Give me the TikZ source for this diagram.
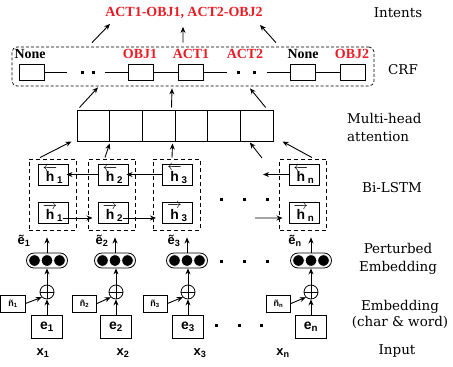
\documentclass[tikz,border=0pt]{standalone}
\usepackage{amsmath}
\usepackage{fontspec}
\setmainfont{DejaVu Serif}
\newfontfamily\tagfont{Liberation Serif}
\newfontfamily\symfont{Liberation Sans}
\usetikzlibrary{arrows.meta}
\definecolor{tagred}{RGB}{235,28,36}
\tikzset{
  arr/.style     = {-{Stealth[length=6bp,width=5bp]},line width=0.9bp},
  link/.style    = {line width=1bp},
  frame/.style   = {draw,dash pattern=on 3bp off 2bp,rounded corners=5bp,line width=0.7bp,minimum width=362bp,minimum height=39bp,inner sep=0pt},
  crfbox/.style  = {draw,line width=1bp,minimum width=25bp,minimum height=16bp,inner sep=0pt},
  tag/.style     = {font=\tagfont\bfseries\fontsize{14}{16}\selectfont,inner sep=0pt},
  cell/.style    = {draw,line width=1bp,minimum width=32.67bp,minimum height=31bp,inner sep=0pt},
  lstmbox/.style = {draw,dash pattern=on 4bp off 3bp,line width=0.9bp,minimum width=47bp,minimum height=71bp,inner sep=0pt},
  hbox/.style    = {draw,line width=1bp,minimum width=30bp,minimum height=21bp,inner sep=0pt,font=\symfont\bfseries\fontsize{14}{16}\selectfont},
  bead/.style    = {draw,line width=0.8bp,rounded corners=7.5bp,minimum width=41bp,minimum height=15bp,inner sep=0pt},
  sum/.style     = {draw,circle,line width=0.8bp,minimum size=14bp,inner sep=0pt},
  nbox/.style    = {draw,line width=1bp,minimum width=24bp,minimum height=17bp,inner sep=0pt,font=\symfont\bfseries\fontsize{9}{10}\selectfont},
  ebox/.style    = {draw,line width=1bp,minimum width=31bp,minimum height=23bp,inner sep=0pt,font=\symfont\bfseries\fontsize{14}{16}\selectfont},
  sym/.style     = {inner sep=0pt,font=\symfont\bfseries\fontsize{13}{15}\selectfont},
  side/.style    = {inner sep=0pt,align=center,font=\fontsize{13.5}{18}\selectfont}
}
\newcommand{\hbk}[1]{$\overleftarrow{\text{h}}_{\text{#1}}$}
\newcommand{\hfw}[1]{$\overrightarrow{\text{h}}_{\text{#1}}$}
\newcommand{\blob}[2]{\fill (#1-1.5,#2-1.5) rectangle ++(3,3);}
\newcommand{\beads}[1]{%
  \foreach \k in {-1,0,1}
    \filldraw[fill=black,draw=white,line width=0.8bp] ([xshift=\k*12.5bp]#1.center) circle (5.8bp);
}

\begin{document}
\begin{tikzpicture}[x=1bp,y=-1bp]
  \useasboundingbox (0,0) rectangle (453,366);

  % intents
  \node[tag,tagred] (intent) at (184,13) {ACT1-OBJ1, ACT2-OBJ2};

  % crf layer
  \node[frame] (crf) at (193,66.5) {};
  \node[crfbox] (c1) at (31.5,72) {};
  \node[crfbox] (c2) at (141,72) {};
  \node[crfbox] (c3) at (191,72) {};
  \node[crfbox] (c4) at (302.5,72) {};
  \node[crfbox] (c5) at (353,72) {};
  \node[tag]        (t1) at (30,54)  {None};
  \node[tag,tagred] (t2) at (140,54) {OBJ1};
  \node[tag,tagred] (t3) at (191,54) {ACT1};
  \node[tag,tagred] (t4) at (245,54) {ACT2};
  \node[tag]        (t5) at (303,54) {None};
  \node[tag,tagred] (t6) at (352,54) {OBJ2};
  \coordinate (g1) at (67,72);
  \coordinate (g2) at (105,72);
  \coordinate (g3) at (227,72);
  \coordinate (g4) at (267,72);
  \draw[link] (c1) -- (g1);
  \draw[link] (g2) -- (c2);
  \draw[link] (c2) -- (c3);
  \draw[link] (c3) -- (g3);
  \draw[link] (g4) -- (c4);
  \draw[link] (c4) -- (c5);
  \blob{82}{72} \blob{93}{72}
  \blob{238}{72} \blob{254}{72}
  \draw[arr] ([xshift=-101bp,yshift=4bp]crf.north) -- ([xshift=-74bp,yshift=-5bp]intent.south);
  \draw[arr] ([xshift=-10bp,yshift=4bp]crf.north)  -- ([xshift=-1bp,yshift=-8bp]intent.south);
  \draw[arr] ([xshift=83bp,yshift=4bp]crf.north)   -- ([xshift=76bp,yshift=-6bp]intent.south);

  % multi-head attention
  \foreach \i in {1,...,6}
    \node[cell] (att\i) at ({77+32.67*(\i-0.5)},125.5) {};
  \draw[arr] ([xshift=3bp,yshift=2bp]att1.north west) -- ([xshift=-95bp,yshift=-1bp]crf.south);
  \draw[arr] ([xshift=-3bp,yshift=2bp]att4.north west) -- ([xshift=-21bp,yshift=-2bp]crf.south);
  \draw[arr] ([xshift=9bp,yshift=2bp]att6.north) -- ([xshift=57bp,yshift=-2bp]crf.south);

  % bi-lstm
  \node[lstmbox] (l1) at (52.5,194.5) {};
  \node[lstmbox] (l2) at (112,194.5) {};
  \node[lstmbox] (l3) at (176.5,194.5) {};
  \node[lstmbox] (ln) at (303,194.5) {};
  \node[hbox] (hb1) at (53,174.5)  {\hbk{1}};
  \node[hbox] (hb2) at (113,174.5) {\hbk{2}};
  \node[hbox] (hb3) at (177.5,174.5) {\hbk{3}};
  \node[hbox] (hbn) at (304,174.5) {\hbk{n}};
  \node[hbox] (hf1) at (53,212.5)  {\hfw{1}};
  \node[hbox] (hf2) at (113,212.5) {\hfw{2}};
  \node[hbox] (hf3) at (177.5,212.5) {\hfw{3}};
  \node[hbox] (hfn) at (304,212.5) {\hfw{n}};
  \coordinate (bk) at (263,174.5);
  \coordinate (fw) at (255,218);
  \coordinate (up) at (262,158);
  \draw[arr] (hb2.west) -- ([xshift=-2bp]hb1.east);
  \draw[arr] (hb3.west) -- ([xshift=-2bp]hb2.east);
  \draw[arr] (hbn.west) -- (bk);
  \draw[arr] ([xshift=-6bp,yshift=-5.5bp]hf1.east) -- ([xshift=-5bp,yshift=-5.5bp]hf2.west);
  \draw[arr] ([xshift=-6bp,yshift=-5.5bp]hf2.east) -- ([xshift=-6bp,yshift=-5.5bp]hf3.west);
  \draw[arr] (fw) -- ([xshift=-6bp,yshift=-5.5bp]hfn.west);
  \blob{221}{199} \blob{244}{199} \blob{267}{199}
  \draw[arr] ([xshift=-12.5bp,yshift=1bp]l1.north) -- ([xshift=-5bp]att1.south west);
  \draw[arr] ([xshift=-7bp,yshift=1bp]l2.north) -- ([xshift=0.5bp,yshift=-2bp]att2.south west);
  \draw[arr] ([xshift=-4.5bp,yshift=1bp]l3.north) -- ([xshift=-3bp,yshift=-2bp]att3.south east);
  \draw[arr] (up) -- ([xshift=10bp,yshift=-1bp]att6.south west);
  \draw[arr] ([xshift=9bp,yshift=1bp]ln.north) -- ([xshift=9bp]att6.south east);

  % perturbed embedding
  \node[bead] (p1) at (47,260.5) {};
  \node[bead] (p2) at (115,260.5) {};
  \node[bead] (p3) at (187,260.5) {};
  \node[bead] (pn) at (311,260.5) {};
  \beads{p1} \beads{p2} \beads{p3} \beads{pn}
  \node[sym] (et1) at (24,241)  {ẽ\textsubscript{1}};
  \node[sym] (et2) at (102,241) {ẽ\textsubscript{2}};
  \node[sym] (et3) at (174,241) {ẽ\textsubscript{3}};
  \node[sym] (etn) at (295,241) {ẽ\textsubscript{n}};
  \draw[arr] (p1.north) -- ([yshift=-7bp]l1.south -| p1);
  \draw[arr] (p2.north) -- ([yshift=-7bp]l2.south -| p2);
  \draw[arr] (p3.north) -- ([yshift=-7bp]l3.south -| p3);
  \draw[arr] (pn.north) -- ([yshift=-7bp]ln.south -| pn);
  \blob{221}{261} \blob{244}{261} \blob{267}{261}

  % embedding + noise
  \foreach \n/\px/\nx/\i in {1/47/13/1, 2/116/84.5/2, 3/188/155/3, n/311/278.5/n} {
    \node[sum]  (s\n) at (\px,292) {};
    \draw[line width=0.6bp] (s\n.north) -- (s\n.south) (s\n.west) -- (s\n.east);
    \node[nbox] (n\n) at (\nx,303.5) {ñ\textsubscript{\i}};
    \node[ebox] (e\n) at (\px,327) {e\textsubscript{\i}};
    \draw[arr] (e\n.north) -- (s\n.south);
    \draw[arr] (s\n.north) -- (s\n.north |- p\n.south);
    \draw[arr] (n\n.east) -- (s\n.south west);
  }
  \blob{216}{325} \blob{239}{325} \blob{261}{325}

  % inputs
  \node[sym] (x1) at (43,353)  {x\textsubscript{1}};
  \node[sym] (x2) at (123,353) {x\textsubscript{2}};
  \node[sym] (x3) at (200,353) {x\textsubscript{3}};
  \node[sym] (xn) at (283,353) {x\textsubscript{n}};

  % layer names
  \node[side] (lbint) at (398,13)  {Intents};
  \node[side] (lbcrf) at (403,70)  {CRF};
  \node[side,align=left,anchor=west] (lbatt) at (347,127.5) {Multi-head\\attention};
  \node[side] (lblstm) at (392,188) {Bi-LSTM};
  \node[side] (lbpert) at (398,259) {Perturbed\\Embedding};
  \node[side,font=\fontsize{13.5}{16}\selectfont] (lbemb) at (400,314.5) {Embedding\\(char \& word)};
  \node[side] (lbin) at (397,351) {Input};
\end{tikzpicture}
\end{document}
